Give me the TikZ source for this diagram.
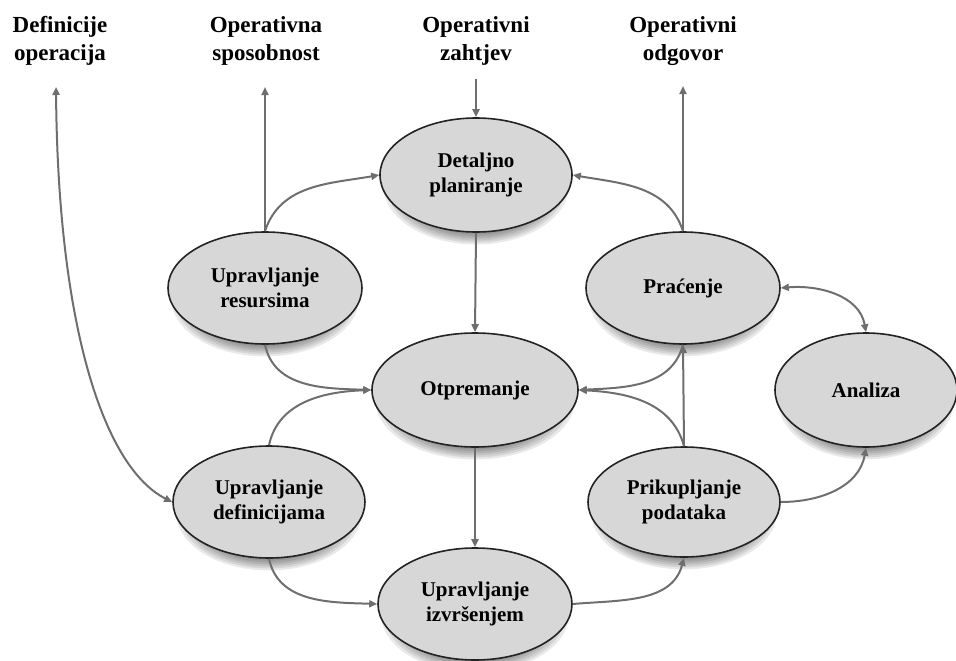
\documentclass[tikz,border=0pt]{standalone}
\usepackage{fontspec}
\setmainfont{Liberation Serif}
\usetikzlibrary{shapes.geometric,arrows.meta}
\definecolor{nodefill}{RGB}{215,215,215}
\definecolor{nodeline}{RGB}{35,35,35}
\definecolor{arrowgray}{RGB}{110,110,110}
\newcommand{\ovalshadow}[4]{%
  \foreach \k in {1,...,7}{%
    \fill[black,opacity=0.085] (#1,#2-11) ellipse [x radius={#3*(1.0-0.035*\k)}, y radius={#4*(1.06-0.035*\k)}];
  }%
}
\tikzset{
  oval/.style={ellipse, draw=nodeline, line width=1.6pt, fill=nodefill, inner sep=0pt,
    align=center, font=\fontsize{21}{25}\selectfont\bfseries},
  toplabel/.style={align=center, font=\fontsize{23}{28}\selectfont\bfseries, inner sep=0pt},
  conn/.style={draw=arrowgray, line width=2pt, -{Triangle[length=8pt,width=7pt]}},
  bconn/.style={draw=arrowgray, line width=2pt, {Triangle[length=8pt,width=7pt]}-{Triangle[length=8pt,width=7pt]}},
  plain/.style={draw=arrowgray, line width=2pt}
}
\begin{document}
\begin{tikzpicture}[x=1pt,y=1pt]
\useasboundingbox (0,-661) rectangle (956,0);
% shadows
\ovalshadow{476}{-175}{96}{57}
\ovalshadow{265}{-288}{97}{56}
\ovalshadow{475}{-390}{103}{57}
\ovalshadow{683}{-288}{97}{56}
\ovalshadow{866}{-390}{91}{57}
\ovalshadow{269}{-502}{96}{56}
\ovalshadow{684}{-502}{96}{55}
\ovalshadow{475}{-604}{97}{56}
% nodes
\node[oval, minimum width=192pt, minimum height=114pt] (dp) at (476,-175) {Detaljno\\planiranje};
\node[oval, minimum width=194pt, minimum height=112pt] (ur) at (265,-288) {Upravljanje\\resursima};
\node[oval, minimum width=206pt, minimum height=114pt] (ot) at (475,-390) {Otpremanje};
\node[oval, minimum width=194pt, minimum height=112pt] (pr) at (683,-288) {Praćenje};
\node[oval, minimum width=182pt, minimum height=114pt] (an) at (866,-390) {Analiza};
\node[oval, minimum width=192pt, minimum height=112pt] (ud) at (269,-502) {Upravljanje\\definicijama};
\node[oval, minimum width=192pt, minimum height=110pt] (pp) at (684,-502) {Prikupljanje\\podataka};
\node[oval, minimum width=194pt, minimum height=112pt] (ui) at (475,-604) {Upravljanje\\izvršenjem};
% top labels
\node[toplabel] (ldef) at (60,-41) {Definicije\\operacija};
\node[toplabel] (lsp) at (266,-41) {Operativna\\sposobnost};
\node[toplabel] (lzah) at (476,-41) {Operativni\\zahtjev};
\node[toplabel] (lodg) at (683,-41) {Operativni\\odgovor};
% free ends
\coordinate (tdef) at (56,-87);
\coordinate (tsp) at (265,-87);
\coordinate (szah) at (476,-79);
\coordinate (todg) at (683,-86);
% connectors
\draw[bconn] (tdef) .. controls (58,-330) and (105,-468) .. (ud.west);
\draw[conn] (ur.north) -- (tsp);
\draw[conn] (ur.north) to[out=72,in=190] (dp.west);
\draw[conn] (szah) -- (dp.north);
\draw[conn] (pr.north) -- (todg);
\draw[conn] (pr.north) to[out=108,in=-10] (dp.east);
\draw[conn] (dp.south) -- (ot.north);
\draw[conn] (ur.south) to[out=-78,in=178] (ot.west);
\draw[conn] (ud.north) to[out=78,in=182] (ot.west);
\draw[conn] (pr.south) to[out=-105,in=3] (ot.east);
\draw[conn] (pp.north) to[out=105,in=-3] (ot.east);
\draw[conn] (pp.north) -- (pr.south);
\draw[bconn] (pr.east) to[out=5,in=100] (an.north);
\draw[conn] (pp.east) to[out=0,in=-100] (an.south);
\draw[conn] (ot.south) -- (ui.north);
\draw[conn] (ud.south) to[out=-78,in=178] (ui.west);
\draw[conn] (ui.east) to[out=5,in=-105] (pp.south);
\end{tikzpicture}
\end{document}
